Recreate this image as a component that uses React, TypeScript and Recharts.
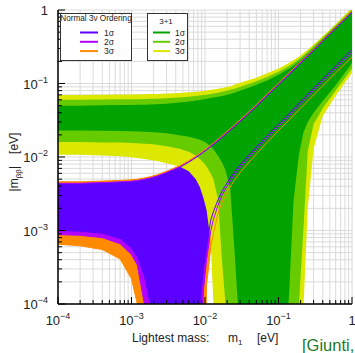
import React from "react";
import { ComposedChart, Area, Line, XAxis, YAxis, CartesianGrid } from "recharts";

// |m_bb| -> 0 (complete cancellation), sits below the plotted range
const ZERO = 1e-6;

// lightest mass m1 [eV]
const m1Values = [
  1e-4, 2e-4, 4e-4, 7e-4, 1e-3, 1.2e-3, 1.5e-3, 1.8e-3, 2.2e-3, 3e-3, 4.5e-3, 6e-3, 7.5e-3,
  8.5e-3, 9.5e-3, 0.0105, 0.012, 0.013, 0.015, 0.017, 0.019, 0.022, 0.025, 0.028, 0.035,
  0.05, 0.07, 0.1, 0.14, 0.16, 0.19, 0.22, 0.25, 0.3, 0.4, 0.6, 1,
];

// 3+1 scheme, lower / upper edge of |m_bb| for 1, 2, 3 sigma
const sterileLo1 = [
  0.023, 0.023, 0.0228, 0.0226, 0.0224, 0.0222, 0.022, 0.0218, 0.0215, 0.021, 0.0198, 0.0188,
  0.0178, 0.0172, 0.0164, 0.0155, 0.0138, 0.0127, 0.0104, 0.0085, 0.0066, 0.0038, 6e-4, 1e-4,
  ZERO, ZERO, ZERO, ZERO, 1.5e-4, 2.5e-3, 0.011, 0.022, 0.03, 0.04, 0.058, 0.095, 0.19,
];
const sterileHi1 = [
  0.05, 0.05, 0.0505, 0.051, 0.051, 0.0512, 0.0515, 0.0518, 0.052, 0.053, 0.055, 0.057, 0.0585,
  0.0598, 0.061, 0.062, 0.0635, 0.0645, 0.066, 0.0675, 0.069, 0.072, 0.075, 0.078, 0.084, 0.096,
  0.11, 0.132, 0.16, 0.175, 0.2, 0.228, 0.258, 0.305, 0.405, 0.6, 0.97,
];
const sterileLo2 = [
  0.016, 0.016, 0.0158, 0.0157, 0.0155, 0.0154, 0.0152, 0.015, 0.0147, 0.014, 0.013, 0.0118,
  0.0104, 0.0094, 0.0084, 0.0074, 0.0059, 0.005, 0.0027, 4e-4, 1e-4, ZERO, ZERO, ZERO, ZERO,
  ZERO, ZERO, ZERO, ZERO, ZERO, 1e-4, 1.2e-3, 0.012, 0.028, 0.046, 0.08, 0.16,
];
const sterileHi2 = [
  0.06, 0.06, 0.0605, 0.061, 0.061, 0.0612, 0.0615, 0.0618, 0.062, 0.063, 0.0645, 0.066, 0.0675,
  0.0685, 0.0695, 0.0705, 0.072, 0.073, 0.075, 0.077, 0.079, 0.082, 0.085, 0.088, 0.095, 0.107,
  0.123, 0.145, 0.175, 0.19, 0.215, 0.242, 0.27, 0.32, 0.42, 0.62, 1.02,
];
const sterileLo3 = [
  0.0107, 0.0107, 0.0105, 0.0102, 0.0099, 0.0097, 0.0094, 0.0091, 0.0088, 0.0082, 0.0074, 0.0064,
  0.005, 0.0039, 0.0028, 0.0019, 7e-4, 1e-4, ZERO, ZERO, ZERO, ZERO, ZERO, ZERO, ZERO, ZERO,
  ZERO, ZERO, ZERO, ZERO, ZERO, 1e-4, 2e-3, 0.013, 0.036, 0.068, 0.14,
];
const sterileHi3 = [
  0.07, 0.07, 0.0705, 0.071, 0.071, 0.0712, 0.0715, 0.0718, 0.072, 0.073, 0.0745, 0.076, 0.077,
  0.078, 0.079, 0.08, 0.082, 0.083, 0.085, 0.087, 0.089, 0.092, 0.096, 0.1, 0.107, 0.12, 0.138,
  0.16, 0.192, 0.208, 0.232, 0.26, 0.288, 0.34, 0.44, 0.64, 1.08,
];

// normal 3nu ordering, lower / upper edge for 1, 2, 3 sigma
const normalLo1 = [
  1e-3, 9.8e-4, 9.2e-4, 7.8e-4, 5.8e-4, 4.4e-4, 2.4e-4, 1e-4, ZERO, ZERO, ZERO, ZERO, ZERO, 1e-4,
  3e-4, 6e-4, 1.4e-3, 1.8e-3, 2.6e-3, 3.4e-3, 4.1e-3, 5.2e-3, 6.2e-3, 7.2e-3, 9.3e-3, 0.0137,
  0.0194, 0.028, 0.039, 0.045, 0.054, 0.062, 0.071, 0.086, 0.115, 0.173, 0.29,
];
const normalHi1 = [
  0.0043, 0.0043, 0.0044, 0.0045, 0.0046, 0.0047, 0.0049, 0.0051, 0.0054, 0.006, 0.0072, 0.0085,
  0.0098, 0.0107, 0.0116, 0.0125, 0.0139, 0.0148, 0.0166, 0.0185, 0.0203, 0.023, 0.0258, 0.0286,
  0.035, 0.0488, 0.068, 0.096, 0.133, 0.152, 0.18, 0.207, 0.235, 0.28, 0.375, 0.56, 0.93,
];
const normalLo2 = [
  8.8e-4, 8.6e-4, 8e-4, 6.6e-4, 4.7e-4, 3.4e-4, 1e-4, ZERO, ZERO, ZERO, ZERO, ZERO, ZERO, ZERO,
  1.5e-4, 4e-4, 1e-3, 1.4e-3, 2.2e-3, 3e-3, 3.7e-3, 4.7e-3, 5.7e-3, 6.6e-3, 8.6e-3, 0.0127,
  0.018, 0.026, 0.036, 0.042, 0.05, 0.058, 0.066, 0.08, 0.106, 0.16, 0.265,
];
const normalHi2 = [
  0.0044, 0.0044, 0.0045, 0.0046, 0.0047, 0.0048, 0.005, 0.0052, 0.0055, 0.0062, 0.0074, 0.0087,
  0.01, 0.011, 0.0119, 0.0128, 0.0142, 0.0152, 0.017, 0.019, 0.0208, 0.0236, 0.0264, 0.0293,
  0.0359, 0.05, 0.0697, 0.0984, 0.136, 0.156, 0.185, 0.212, 0.241, 0.287, 0.384, 0.574, 0.953,
];
const normalLo3 = [
  6.5e-4, 6.2e-4, 5.5e-4, 4.1e-4, 2.2e-4, 1e-4, ZERO, ZERO, ZERO, ZERO, ZERO, ZERO, ZERO, ZERO,
  ZERO, 1.8e-4, 6e-4, 9e-4, 1.7e-3, 2.4e-3, 3e-3, 3.9e-3, 4.8e-3, 5.6e-3, 7.4e-3, 0.011, 0.0158,
  0.023, 0.032, 0.037, 0.044, 0.051, 0.058, 0.07, 0.093, 0.14, 0.23,
];
const normalHi3 = [
  0.0046, 0.0046, 0.0047, 0.0048, 0.0049, 0.005, 0.0052, 0.0054, 0.0057, 0.0064, 0.0076, 0.0089,
  0.0103, 0.0112, 0.0122, 0.0131, 0.0146, 0.0155, 0.0174, 0.0194, 0.0213, 0.0242, 0.0271, 0.03,
  0.0368, 0.0512, 0.0714, 0.101, 0.14, 0.16, 0.189, 0.217, 0.247, 0.294, 0.394, 0.588, 0.977,
];

const decades = [1e-4, 1e-3, 1e-2, 1e-1, 1];
const minorSteps = [1, 2, 3, 4, 5, 6, 7, 8, 9];
const logTicks = decades.flatMap((d, i) =>
  i === decades.length - 1 ? [d] : minorSteps.map((k) => +(k * d).toPrecision(3))
);

const sigmaLabels = ["1σ", "2σ", "3σ"];
const normalColors = ["#5c00ff", "#b300ff", "#ff8a00"];
const sterileColors = ["#00a300", "#66cc00", "#dce800"];

const data = m1Values.map((m, i) => ({
  m,
  s1: [sterileLo1[i], sterileHi1[i]],
  s2: [sterileLo2[i], sterileHi2[i]],
  s3: [sterileLo3[i], sterileHi3[i]],
  n1: [normalLo1[i], normalHi1[i]],
  n2: [normalLo2[i], normalHi2[i]],
  n3: [normalLo3[i], normalHi3[i]],
  nLo1: normalLo1[i],
  nHi1: normalHi1[i],
  nLo2: normalLo2[i],
  nHi2: normalHi2[i],
  nLo3: normalLo3[i],
  nHi3: normalHi3[i],
}));

const FONT = "'Liberation Sans', Arial, Helvetica, sans-serif";

const isDecade = (v: number) => Math.abs(Math.log10(v) - Math.round(Math.log10(v))) < 1e-6;

const powerText = (v: number) => {
  const e = Math.round(Math.log10(v));
  if (e === 0) return "1";
  return (
    <>
      10
      <tspan dy={-6} fontSize={9}>
        {"\u2212" + Math.abs(e)}
      </tspan>
    </>
  );
};

// ticks point inwards; labels only on decades
const makeTick = (side: "bottom" | "top" | "left" | "right") => (props: any) => {
  const { x, y, payload } = props;
  const major = isDecade(payload.value);
  const len = major ? 7 : 4;
  let line;
  if (side === "bottom") line = <line x1={x} x2={x} y1={y} y2={y - len} />;
  else if (side === "top") line = <line x1={x} x2={x} y1={y} y2={y + len} />;
  else if (side === "left") line = <line x1={x} x2={x + len} y1={y} y2={y} />;
  else line = <line x1={x} x2={x - len} y1={y} y2={y} />;
  return (
    <g>
      <g stroke="#000" strokeWidth={1}>{line}</g>
      {major && side === "bottom" && (
        <text x={x} y={y + 21} textAnchor="middle" fontSize={13} fill="#222" fontFamily={FONT}>
          {powerText(payload.value)}
        </text>
      )}
      {major && side === "left" && (
        <text x={x - 10} y={y + 5} textAnchor="end" fontSize={13} fill="#222" fontFamily={FONT}>
          {powerText(payload.value)}
        </text>
      )}
    </g>
  );
};

const frame = { stroke: "#000", strokeWidth: 1.5 };

export default function App() {
  return (
    <div
      style={{
        position: "absolute",
        left: 0,
        top: 0,
        width: 355,
        height: 353,
        overflow: "hidden",
        background: "#fff",
        fontFamily: FONT,
      }}
    >
      <ComposedChart
        width={355}
        height={353}
        data={data}
        margin={{ top: 10, right: 3, bottom: 0, left: 0 }}
      >
        <CartesianGrid stroke="#dadada" strokeWidth={1} />
        <XAxis
          dataKey="m"
          type="number"
          scale="log"
          domain={[1e-4, 1]}
          allowDataOverflow
          ticks={logTicks}
          interval={0}
          height={49}
          tickSize={0}
          tickMargin={0}
          tickLine={false}
          axisLine={frame}
          tick={makeTick("bottom")}
        />
        <XAxis
          xAxisId="top"
          orientation="top"
          dataKey="m"
          type="number"
          scale="log"
          domain={[1e-4, 1]}
          allowDataOverflow
          ticks={logTicks}
          interval={0}
          height={0}
          tickSize={0}
          tickMargin={0}
          tickLine={false}
          axisLine={frame}
          tick={makeTick("top")}
        />
        <YAxis
          type="number"
          scale="log"
          domain={[1e-4, 1]}
          allowDataOverflow
          ticks={logTicks}
          interval={0}
          width={58}
          tickSize={0}
          tickMargin={0}
          tickLine={false}
          axisLine={frame}
          tick={makeTick("left")}
        />
        <YAxis
          yAxisId="right"
          orientation="right"
          type="number"
          scale="log"
          domain={[1e-4, 1]}
          allowDataOverflow
          ticks={logTicks}
          interval={0}
          width={0}
          tickSize={0}
          tickMargin={0}
          tickLine={false}
          axisLine={frame}
          tick={makeTick("right")}
        />

        {/* normal ordering regions */}
        <Area dataKey="n3" type="linear" stroke="none" fill={normalColors[2]} fillOpacity={1} isAnimationActive={false} activeDot={false} />
        <Area dataKey="n2" type="linear" stroke="none" fill={normalColors[1]} fillOpacity={1} isAnimationActive={false} activeDot={false} />
        <Area dataKey="n1" type="linear" stroke="none" fill={normalColors[0]} fillOpacity={1} isAnimationActive={false} activeDot={false} />

        {/* 3+1 regions on top */}
        <Area dataKey="s3" type="linear" stroke="none" fill={sterileColors[2]} fillOpacity={1} isAnimationActive={false} activeDot={false} />
        <Area dataKey="s2" type="linear" stroke="none" fill={sterileColors[1]} fillOpacity={1} isAnimationActive={false} activeDot={false} />
        <Area dataKey="s1" type="linear" stroke="none" fill={sterileColors[0]} fillOpacity={1} isAnimationActive={false} activeDot={false} />

        {/* normal ordering contours */}
        <Line dataKey="nLo1" type="linear" stroke={normalColors[0]} strokeWidth={1} dot={false} activeDot={false} isAnimationActive={false} />
        <Line dataKey="nLo2" type="linear" stroke={normalColors[1]} strokeWidth={1} dot={false} activeDot={false} isAnimationActive={false} />
        <Line dataKey="nLo3" type="linear" stroke={normalColors[2]} strokeWidth={1} dot={false} activeDot={false} isAnimationActive={false} />
        <Line dataKey="nHi1" type="linear" stroke={normalColors[0]} strokeWidth={1} dot={false} activeDot={false} isAnimationActive={false} />
        <Line dataKey="nHi2" type="linear" stroke={normalColors[1]} strokeWidth={1} dot={false} activeDot={false} isAnimationActive={false} />
        <Line dataKey="nHi3" type="linear" stroke={normalColors[2]} strokeWidth={1} dot={false} activeDot={false} isAnimationActive={false} />
      </ComposedChart>

      {/* legends and axis titles */}
      <svg
        width={355}
        height={353}
        style={{ position: "absolute", left: 0, top: 0, pointerEvents: "none" }}
        fontFamily={FONT}
      >
        <rect x={60.5} y={13.5} width={71} height={47} fill="#fff" stroke="#333" strokeWidth={1} />
        <text x={96} y={20.5} textAnchor="middle" fontSize={8.2} fill="#222">
          Normal 3ν Ordering
        </text>
        {sigmaLabels.map((lab, i) => (
          <g key={"n" + lab}>
            <line x1={80} x2={98} y1={32.5 + i * 9.3} y2={32.5 + i * 9.3} stroke={normalColors[i]} strokeWidth={2} />
            <text x={104} y={35.5 + i * 9.3} fontSize={8.5} fill="#222">
              {lab}
            </text>
          </g>
        ))}

        <rect x={147.5} y={13.5} width={40} height={47} fill="#fff" stroke="#333" strokeWidth={1} />
        <text x={166} y={24} textAnchor="middle" fontSize={8} fill="#222">
          3+1
        </text>
        {sigmaLabels.map((lab, i) => (
          <g key={"s" + lab}>
            <line x1={153} x2={170} y1={32.5 + i * 9.3} y2={32.5 + i * 9.3} stroke={sterileColors[i]} strokeWidth={2} />
            <text x={175} y={35.5 + i * 9.3} fontSize={8.5} fill="#222">
              {lab}
            </text>
          </g>
        ))}

        <text transform="translate(18,162) rotate(-90)" textAnchor="middle" fontSize={12} fill="#222">
          |m
          <tspan dy={3} fontSize={8}>ββ</tspan>
          <tspan dy={-3}>|</tspan>
          <tspan dx={12}>[eV]</tspan>
        </text>

        <text x={132} y={342} fontSize={12} fill="#222">
          Lightest mass:
        </text>
        <text x={228} y={342} fontSize={12} fill="#222">
          m<tspan dy={3} fontSize={8}>1</tspan>
        </text>
        <text x={257} y={342} fontSize={12} fill="#222">
          [eV]
        </text>
        <text x={302} y={351} fontSize={16.5} fill="#1f7a1f">
          [Giunti,
        </text>
      </svg>
    </div>
  );
}
